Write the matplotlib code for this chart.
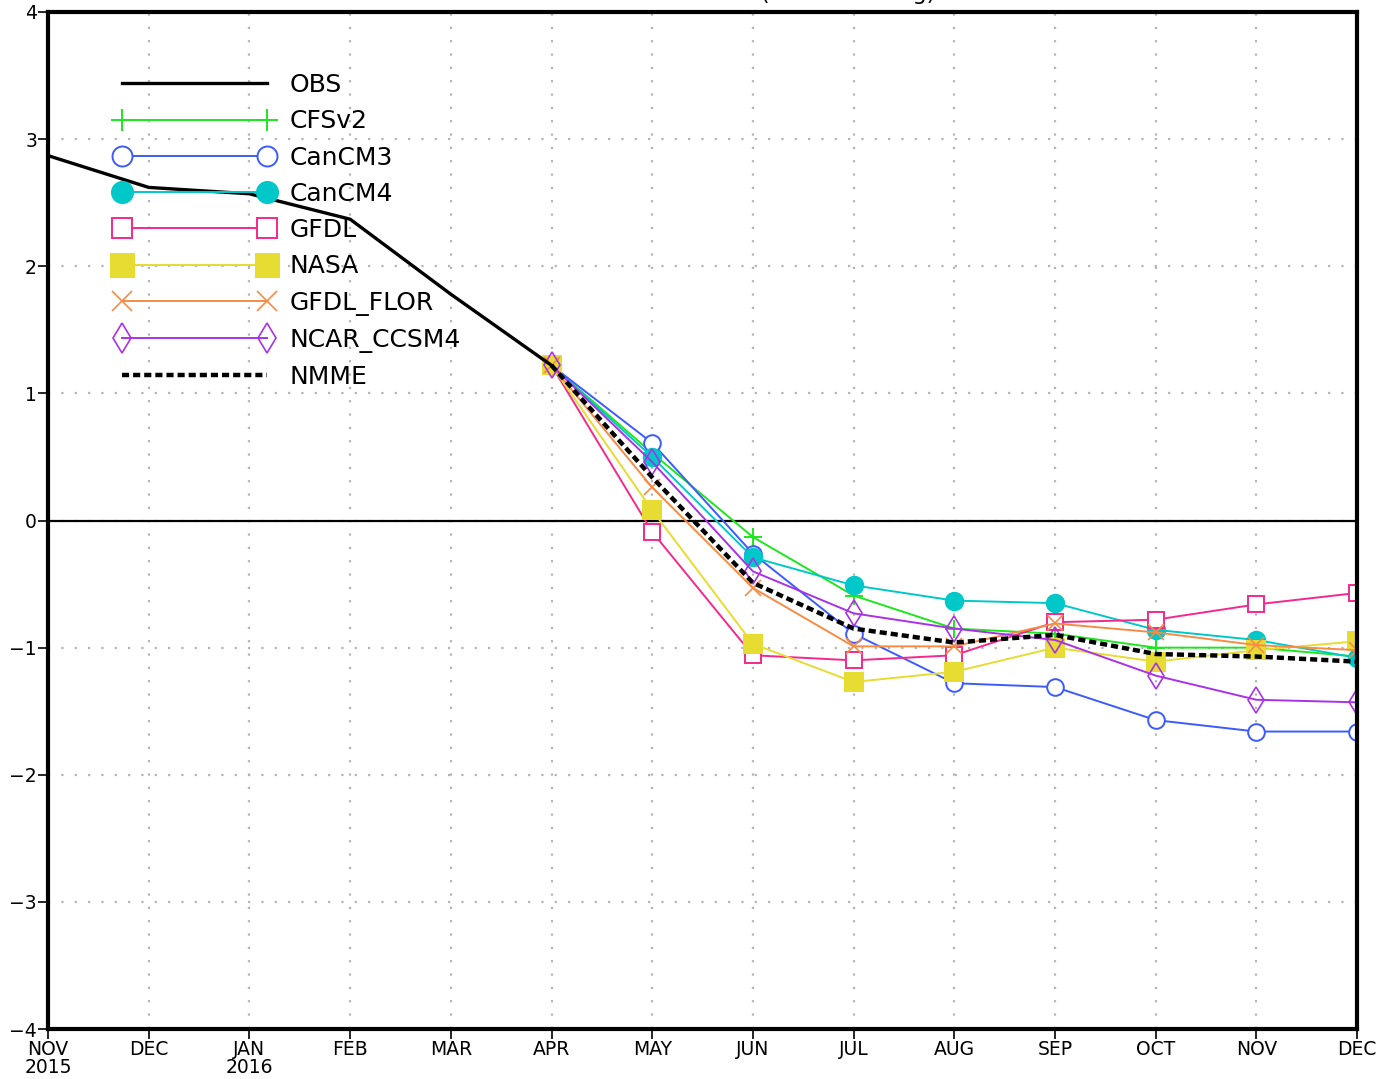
import matplotlib
matplotlib.use('Agg')
import matplotlib.pyplot as plt

# month axis: Nov 2015 .. Dec 2016
months = ['NOV\n2015', 'DEC', 'JAN\n2016', 'FEB', 'MAR', 'APR', 'MAY',
          'JUN', 'JUL', 'AUG', 'SEP', 'OCT', 'NOV', 'DEC']

# observed, Nov 2015 .. Apr 2016
obs_idx = [0, 1, 2, 3, 4, 5]
obs = [2.87, 2.62, 2.57, 2.37, 1.78, 1.22]

# forecasts, Apr 2016 .. Dec 2016
fc_idx = [5, 6, 7, 8, 9, 10, 11, 12, 13]
cfsv2 = [1.22, 0.53, -0.13, -0.59, -0.85, -0.89, -1.00, -1.00, -1.07]
cancm3 = [1.22, 0.61, -0.26, -0.89, -1.28, -1.31, -1.57, -1.66, -1.66]
cancm4 = [1.22, 0.50, -0.29, -0.51, -0.63, -0.65, -0.86, -0.94, -1.08]
gfdl = [1.22, -0.09, -1.06, -1.10, -1.06, -0.80, -0.78, -0.66, -0.57]
nasa = [1.22, 0.08, -0.97, -1.27, -1.19, -1.00, -1.11, -1.02, -0.95]
gfdl_flor = [1.22, 0.26, -0.53, -0.99, -0.99, -0.81, -0.88, -0.98, -1.02]
ncar_ccsm4 = [1.22, 0.46, -0.40, -0.73, -0.85, -0.94, -1.22, -1.41, -1.43]
nmme = [1.22, 0.34, -0.49, -0.85, -0.96, -0.90, -1.05, -1.07, -1.11]

plt.rcParams['font.family'] = ['DejaVu Sans']

fig = plt.figure(figsize=(13.77, 10.79), dpi=100)
ax = fig.add_axes([0.0349, 0.0463, 0.9506, 0.9426])

ax.set_xlim(0, 13)
ax.set_ylim(-4, 4)
ax.set_xticks(range(14))
ax.set_xticklabels(months, fontsize=13.5, linespacing=0.9)
ax.set_yticks(range(-4, 5))
ax.set_yticklabels([str(v).replace('-', '\u2212') for v in range(-4, 5)], fontsize=13.5)
ax.tick_params(axis='both', direction='out', length=7, width=1.2, pad=1)
ax.grid(True, color='#b4b4b4', linestyle=(0, (1, 5)), linewidth=1.6)
for s in ax.spines.values():
    s.set_linewidth(3)
    s.set_zorder(10)

ax.axhline(0, color='black', lw=1.6, zorder=2)

ax.plot(obs_idx, obs, color='black', lw=2.4, label='OBS', zorder=5)

series = [
    ('CFSv2', cfsv2, '#1ee61e', dict(marker='+', ms=13, mew=1.4)),
    ('CanCM3', cancm3, '#3c5aff', dict(marker='o', ms=12, mfc='white', mew=1.4)),
    ('CanCM4', cancm4, '#00c8c8', dict(marker='o', ms=13, mfc='#00c8c8', mew=1)),
    ('GFDL', gfdl, '#f5288c', dict(marker='s', ms=12, mfc='white', mew=1.4)),
    ('NASA', nasa, '#e6dc32', dict(marker='s', ms=15, mfc='#e6dc32', mew=0)),
    ('GFDL_FLOR', gfdl_flor, '#f58c46', dict(marker='x', ms=12, mew=1.2)),
    ('NCAR_CCSM4', ncar_ccsm4, '#aa32e6', dict(marker='d', ms=13, mfc='none', mew=1.2)),
]
for name, vals, col, mk in series:
    ax.plot(fc_idx, vals, color=col, lw=1.4, label=name, zorder=4, **mk)

ax.plot(fc_idx, nmme, color='black', lw=3.2, linestyle=(0, (1.6, 0.9)), label='NMME', zorder=6)

leg = ax.legend(loc='upper left', bbox_to_anchor=(0.0504, 0.940), frameon=False,
                numpoints=2, fontsize=18, handlelength=6.4, handletextpad=0.62,
                labelspacing=0.49, borderpad=0, borderaxespad=0, markerscale=1.2)

# clipped title fragment at the very top, as in the source image
fig.text(0.616, 1.0, '(Ensemble avg)', ha='center', va='baseline', fontsize=16)

fig.savefig('out.png', dpi=100)
